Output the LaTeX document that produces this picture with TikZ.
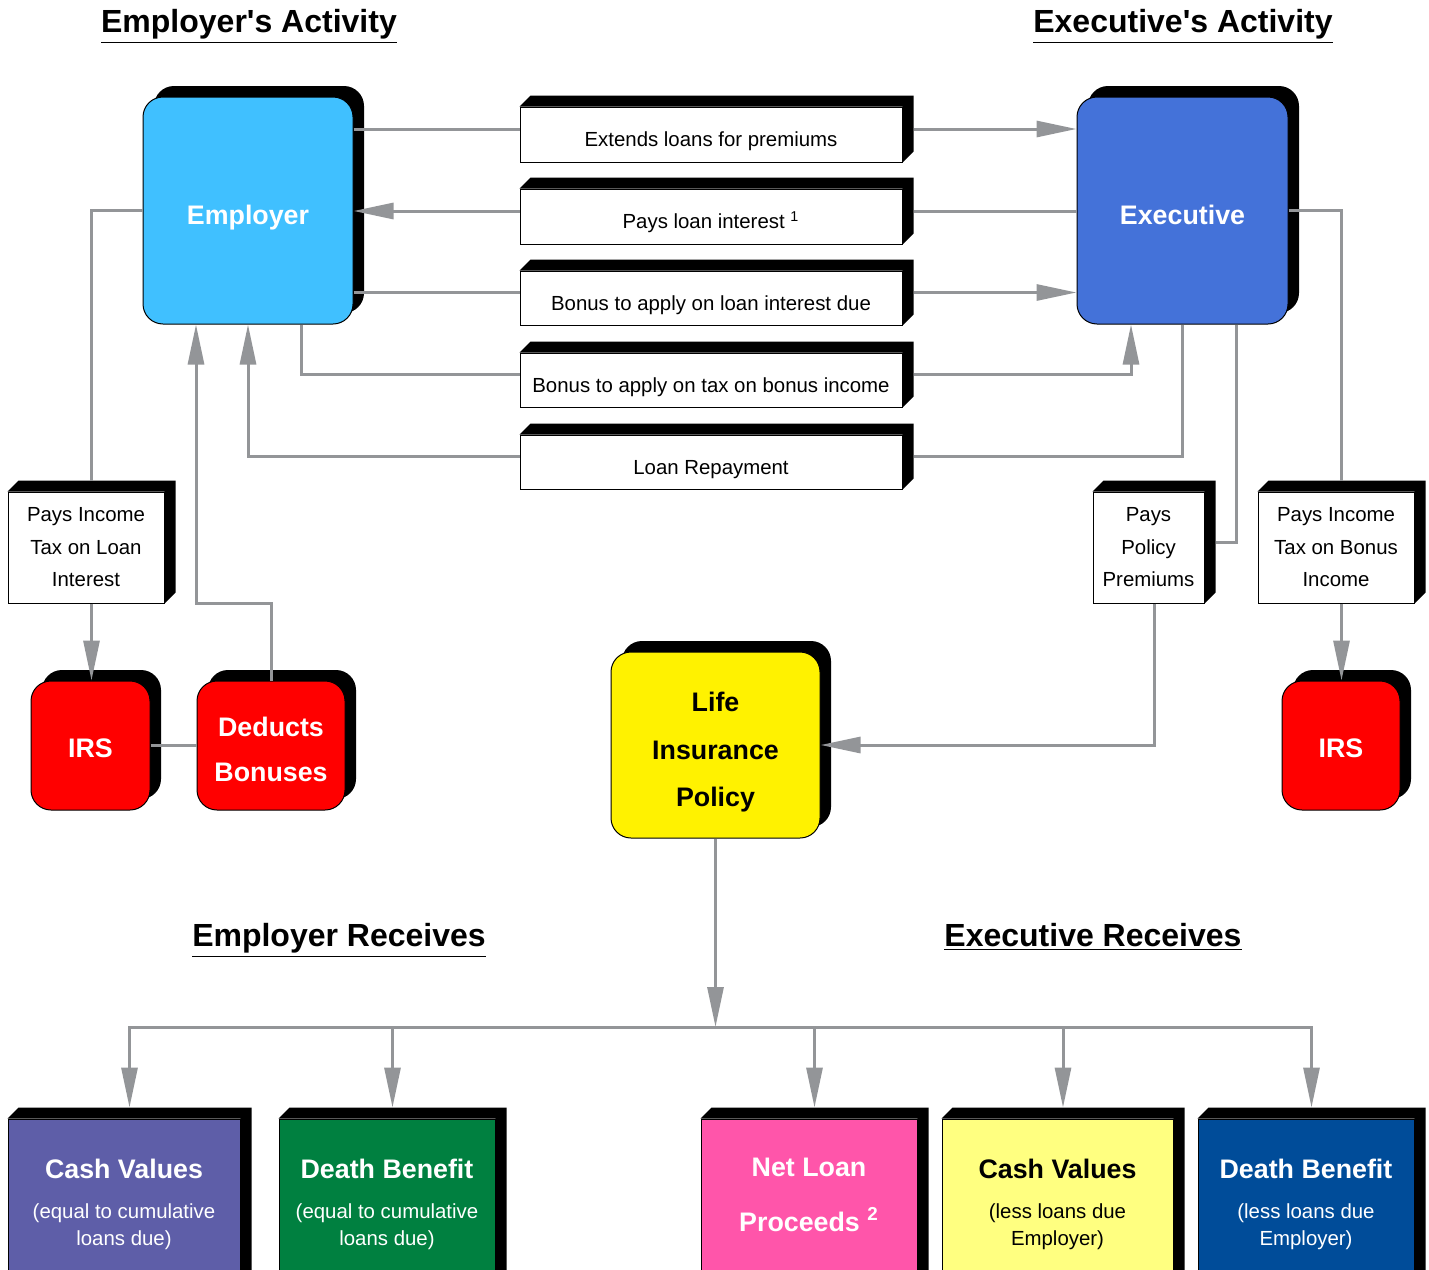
\documentclass[tikz,border=0pt]{standalone}
\usepackage{fontspec}
\setmainfont{Liberation Sans}
\usetikzlibrary{arrows.meta,shadows}

\definecolor{linegray}{RGB}{147,149,152}
\definecolor{emplblue}{RGB}{64,192,255}
\definecolor{exeblue}{RGB}{68,114,217}
\definecolor{cvpurple}{RGB}{94,94,168}
\definecolor{dbgreen}{RGB}{0,128,64}
\definecolor{nlpink}{RGB}{255,85,170}
\definecolor{cvyellow}{RGB}{255,255,128}
\definecolor{dbblue}{RGB}{0,76,153}

% top and right faces of a 3d slab, plus its attach points
\newcommand\slabsides[1]{%
\fill (#1.north west) -- ([shift={(5.5pt,5.5pt)}]#1.north west) -- ([shift={(5.5pt,5.5pt)}]#1.north east) -- ([shift={(5.5pt,5.5pt)}]#1.south east) -- (#1.south east) -- (#1.north east) -- cycle;
\coordinate (#1W) at ([yshift=2.75pt]#1.west);
\coordinate (#1E) at ([shift={(5.5pt,2.75pt)}]#1.east);
\coordinate (#1N) at ([shift={(2.75pt,5.5pt)}]#1.north);
\coordinate (#1S) at ([xshift=2.75pt]#1.south);
}

\tikzset{
flow/.style={draw=linegray, line width=1.5pt},
flowarrow/.style={flow, -{Triangle[length=20pt,width=8pt]}},
party/.style={draw=black, line width=0.5pt, rounded corners=10pt, text=white, align=center,
 font=\bfseries\fontsize{13.4}{16}\selectfont,
 drop shadow={shadow xshift=5.5pt, shadow yshift=5.5pt, opacity=1, fill=black}},
slab/.style={draw=black, line width=0.5pt, fill=white, align=center, inner sep=2pt,
 font=\fontsize{10.2}{16.25}\selectfont},
midslab/.style={slab, minimum width=191pt, text height=12.4pt, text depth=0pt},
receipt/.style={slab, text=white, font=\fontsize{10.2}{13.5}\selectfont},
heading/.style={anchor=base, font=\bfseries\fontsize{16}{19}\selectfont},
}

\begin{document}
\begin{tikzpicture}[x=0.5pt,y=-0.5pt]
\useasboundingbox (0,0) rectangle (1429,1269);
\clip (0,0) rectangle (1429,1269);

% titles
\node[heading] (empact) at (249,32.5) {\underline{Employer\textquotesingle s Activity}};
\node[heading] (exeact) at (1183,32.5) {\underline{Executive\textquotesingle s Activity}};
\node[heading] (emprec) at (339,946.5) {\underline{Employer Receives}};
\node[heading] (exerec) at (1093,946.5) {\underline{Executive Receives}};

% parties
\node[party, fill=emplblue, minimum width=105pt, minimum height=113.5pt, text height=14pt, text depth=0pt] (employer) at (248,210.5) {Employer};
\node[party, fill=exeblue, minimum width=105.5pt, minimum height=113.5pt, text height=14pt, text depth=0pt] (executive) at (1182.5,210.5) {Executive};
\node[party, fill=red, minimum width=59.5pt, minimum height=64.5pt, text height=12pt, text depth=0pt] (irsL) at (90.5,745.5) {IRS};
\node[party, fill=red, minimum width=74pt, minimum height=64.5pt, text height=36pt, font=\bfseries\fontsize{13.4}{22.5}\selectfont] (deduct) at (271,745.5) {Deducts\\Bonuses};
\node[party, fill=red, minimum width=59pt, minimum height=64.5pt, text height=12pt, text depth=0pt] (irsR) at (1341,745.5) {IRS};
\node[party, fill=yellow, text=black, minimum width=104.5pt, minimum height=93pt, text height=64.5pt, font=\bfseries\fontsize{13.4}{23.75}\selectfont] (life) at (715.5,745) {Life\\Insurance\\Policy};

% middle slabs
\node[midslab, minimum height=27.5pt] (lb1) at (711,134.5) {Extends loans for premiums};
\slabsides{lb1}
\node[midslab, minimum height=27.5pt] (lb2) at (711,216.5) {Pays loan interest \textsuperscript{1}};
\slabsides{lb2}
\node[midslab, minimum height=27pt] (lb3) at (711,298) {Bonus to apply on loan interest due};
\slabsides{lb3}
\node[midslab, minimum height=27pt] (lb4) at (711,380) {Bonus to apply on tax on bonus income};
\slabsides{lb4}
\node[midslab, minimum height=27pt] (lb5) at (711,462) {Loan Repayment};
\slabsides{lb5}

% tax and premium slabs
\node[slab, minimum width=78pt, minimum height=55.5pt] (taxL) at (86,547.5) {Pays Income\\Tax on Loan\\Interest};
\slabsides{taxL}
\node[slab, minimum width=55.5pt, minimum height=55.5pt] (prem) at (1148.5,547.5) {Pays\\Policy\\Premiums};
\slabsides{prem}
\node[slab, minimum width=78pt, minimum height=55.5pt] (taxR) at (1336,547.5) {Pays Income\\Tax on Bonus\\Income};
\slabsides{taxR}

% what each side receives
\node[receipt, fill=cvpurple, minimum width=116pt, minimum height=85.5pt] (cashA) at (124,1204.5)
 {{\bfseries\fontsize{13.4}{16}\selectfont Cash Values}\\[6.5pt](equal to cumulative\\loans due)};
\slabsides{cashA}
\node[receipt, fill=dbgreen, minimum width=108pt, minimum height=85.5pt] (deathA) at (387,1204.5)
 {{\bfseries\fontsize{13.4}{16}\selectfont Death Benefit}\\[6.5pt](equal to cumulative\\loans due)};
\slabsides{deathA}
\node[receipt, fill=nlpink, minimum width=108pt, minimum height=85.5pt, text depth=10pt, font=\bfseries\fontsize{13.4}{27.5}\selectfont] (netL) at (809,1204.5)
 {Net Loan\\Proceeds \textsuperscript{2}};
\slabsides{netL}
\node[receipt, fill=cvyellow, text=black, minimum width=115.5pt, minimum height=85.5pt] (cashB) at (1057.5,1204.5)
 {{\bfseries\fontsize{13.4}{16}\selectfont Cash Values}\\[6.5pt](less loans due\\Employer)};
\slabsides{cashB}
\node[receipt, fill=dbblue, minimum width=108pt, minimum height=85.5pt] (deathB) at (1306,1204.5)
 {{\bfseries\fontsize{13.4}{16}\selectfont Death Benefit}\\[6.5pt](less loans due\\Employer)};
\slabsides{deathB}

% employer <-> executive
\draw[flow] (employer.east |- lb1W) -- (lb1W);
\draw[flowarrow] (lb1E) -- (lb1E -| executive.west);
\draw[flow] (executive.west |- lb2E) -- (lb2E);
\draw[flowarrow] (lb2W) -- (lb2W -| employer.east);
\draw[flow] (employer.east |- lb3W) -- (lb3W);
\draw[flowarrow] (lb3E) -- (lb3E -| executive.west);
\draw[flow] ([xshift=26.5pt]employer.south) |- (lb4W);
\draw[flowarrow] (lb4E) -| ([xshift=-25.75pt]executive.south);
\draw[flow] (executive.south) |- (lb5E);
\draw[flowarrow] (lb5W) -| (employer.south);

% employer side
\draw[flow] (employer.west) -| (taxLN);
\draw[flowarrow] (taxLS) -- (taxLS |- irsL.north);
\draw[flowarrow] (deduct.north) -- (deduct.north |- taxL.south) -| ([xshift=-26pt]employer.south);
\draw[flow] (irsL.east) -- (deduct.west);

% executive side
\draw[flow] (executive.east) -| (taxRN);
\draw[flowarrow] (taxRS) -- (taxRS |- irsR.north);
\draw[flow] ([xshift=26.75pt]executive.south) |- (premE);
\draw[flowarrow] (premS) |- (life.east);

% policy pays out
\coordinate (split) at (715.5,1027);
\draw[flowarrow] (life.south) -- (split);
\foreach \rcv in {cashA,deathA,netL,cashB,deathB}
 \draw[flowarrow] (split) -| (\rcv N);
\end{tikzpicture}
\end{document}
